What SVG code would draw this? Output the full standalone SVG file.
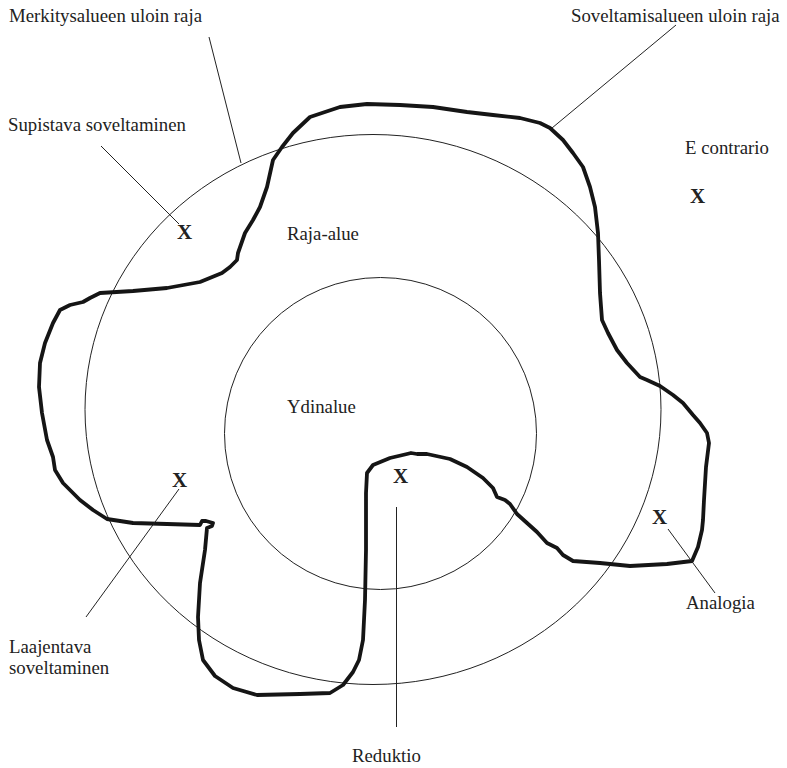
<svg xmlns="http://www.w3.org/2000/svg" width="787" height="768" viewBox="0 0 787 768">
<style>
  .lbl { font-family: "Liberation Serif", "Times New Roman", serif; font-size: 18.8px; fill: #222; }
  .x { font-family: "Liberation Serif", "Times New Roman", serif; font-size: 21px; font-weight: bold; fill: #222; }
  .thin { fill: none; stroke: #222; stroke-width: 1; }
  .thick { fill: none; stroke: #151515; stroke-width: 3.8; stroke-linejoin: round; stroke-linecap: round; }
</style>
<rect width="787" height="768" fill="#fff"/>
<g id="meaning-area">
  <ellipse class="thin" cx="373" cy="409.5" rx="288" ry="275"/>
  <text class="lbl" x="287" y="240">Raja-alue</text>
</g>
<g id="core-area">
  <circle class="thin" cx="380.5" cy="433.5" r="156"/>
  <text class="lbl" x="287" y="413">Ydinalue</text>
</g>
<g id="application-area">
  <path class="thick" d="M400 105 L433 107 L467 112 L493 115 L520 118 L540 123 L550 128 L563 140 L573 153 L583 167 L590 187 L595 207 L598 233 L599 260 L600 293 L602 320 L608 333 L617 350 L627 363 L640 377 L647 380 L660 386 L673 395 L683 403 L693 415 L700 423 L707 433 L709 443 L706 467 L704 500 L703 520 L702 530 L698 547 L692 561 L667 564 L630 566 L600 563 L573 561 L563 555 L557 548 L547 543 L537 532 L527 523 L517 514 L510 504 L505 500 L497 497 L493 488 L483 478 L467 467 L450 459 L427 454 L417 454 L411 453 L407 454 L390 458 L373 465 L367 473 L366 493 L366 550 L365 600 L363 640 L359 660 L353 672 L343 685 L330 693 L300 694 L257 695 L233 688 L215 676 L203 660 L199 640 L198 617 L200 583 L205 550 L207 528 L212 526 L213 523 L206 521 L202 521 L200 525 L167 524 L133 523 L107 519 L93 510 L80 500 L63 483 L55 470 L53 457 L47 440 L42 413 L39 387 L40 363 L45 343 L53 323 L60 310 L70 305 L83 302 L90 298 L100 293 L133 291 L167 288 L200 282 L222 273 L230 267 L237 260 L238 253 L245 233 L253 220 L260 207 L267 187 L273 160 L282 147 L293 133 L310 117 L340 107 L367 104 Z"/>
</g>
<g id="connectors">
  <line class="thin" x1="209" y1="37" x2="241" y2="163"/>
  <line class="thin" x1="676" y1="25" x2="552" y2="128"/>
  <line class="thin" x1="101" y1="146" x2="179" y2="224"/>
  <line class="thin" x1="179" y1="489" x2="86" y2="617"/>
  <line class="thin" x1="396.5" y1="507" x2="396.5" y2="727"/>
  <line class="thin" x1="668" y1="529" x2="715" y2="593"/>
</g>
<g id="label-merkitysalue"><text class="lbl" x="9" y="22">Merkitysalueen uloin raja</text></g>
<g id="label-soveltamisalue"><text class="lbl" x="571" y="22">Soveltamisalueen uloin raja</text></g>
<g id="supistava"><text class="lbl" x="8" y="131">Supistava soveltaminen</text><text class="x" x="177" y="239">X</text></g>
<g id="e-contrario"><text class="lbl" x="685" y="154">E contrario</text><text class="x" x="690" y="203">X</text></g>
<g id="laajentava"><text class="x" x="172" y="487">X</text><text class="lbl" x="9" y="653">Laajentava</text><text class="lbl" x="9" y="674">soveltaminen</text></g>
<g id="reduktio"><text class="x" x="393" y="483">X</text><text class="lbl" x="352" y="762">Reduktio</text></g>
<g id="analogia"><text class="x" x="652" y="524">X</text><text class="lbl" x="686" y="609">Analogia</text></g>
</svg>
